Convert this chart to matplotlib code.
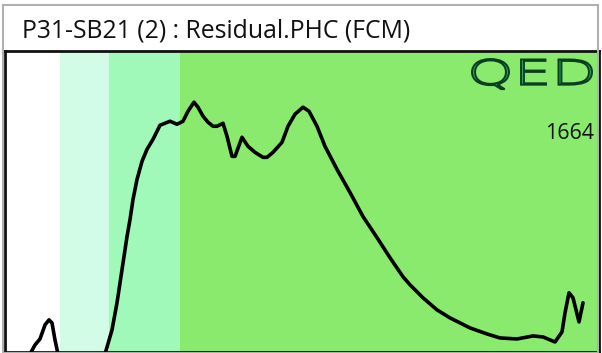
import numpy as np
import matplotlib.pyplot as plt
from matplotlib.patches import Rectangle, PathPatch
from matplotlib.textpath import TextPath
from matplotlib.font_manager import FontProperties
from matplotlib.transforms import Affine2D

# trace of the distribution curve (x position, response); NaN splits the two humps
curve_x = [25, 30, 35, 40, 44, 47, 50, 53, np.nan,
           100, 107, 112, 117, 122, 125, 128, 132, 137, 142, 148, 155, 165, 172, 178,
           183, 189, 193, 198, 203, 208, 212, 218, 222, 227, 230, 237, 243, 250, 258,
           262, 268, 277, 283, 290, 298, 304, 312, 320, 332, 345, 358, 372, 385, 398,
           405, 418, 432, 445, 465, 482, 495, 512, 528, 538, 550, 557, 560, 564, 568,
           574, 578]
curve_y = [-2, 7, 13, 27, 32, 29, 12, -2, np.nan,
           -2, 22, 49, 82, 115, 132, 152, 172, 190, 202, 212, 226, 230, 227, 230,
           240, 249, 244, 235, 229, 225, 225, 228, 215, 195, 195, 214, 205, 199, 194,
           194, 199, 209, 225, 237, 244, 240, 225, 205, 182, 159, 135, 114, 94, 75,
           67, 54, 42, 34, 24, 18, 14, 13, 16, 15, 10, 20, 39, 59, 54,
           30, 49]
# region boundaries along x
band_edges = [0, 55, 104, 175, 594]
band_colors = ['#ffffff', '#d3fce6', '#a1f9b9', '#8aea6d']
title = 'P31-SB21 (2) : Residual.PHC (FCM)'
count_label = '1664'

W, H = 602, 353
fig = plt.figure(figsize=(W / 100, H / 100), dpi=100)
fig.patch.set_facecolor('white')

# outer gray frame around title and plot
fig.patches.append(Rectangle((3 / W, 0), 595 / W, 1 - 5 / H, transform=fig.transFigure,
                             fill=False, edgecolor='#b0b0b0', linewidth=1.5))
fig.text(22 / W, 1 - 31 / H, title, fontsize=17.8, family='Open Sans',
         ha='left', va='center', color='#111111')

ax = fig.add_axes([5 / W, 1 / H, 594 / W, 301 / H])
ax.set_xlim(0, 594)
ax.set_ylim(0, 300)
for i in range(len(band_colors)):
    ax.axvspan(band_edges[i], band_edges[i + 1], color=band_colors[i], lw=0, zorder=0)

ax.plot(curve_x, curve_y, color='black', lw=2.6, solid_joinstyle='round',
        solid_capstyle='round', zorder=3)

for s in ax.spines.values():
    s.set_linewidth(2)
    s.set_color('#111111')
ax.set_xticks([])
ax.set_yticks([])

ax.text(589, 218, count_label, fontsize=15.5, family='Open Sans', weight='medium',
        ha='right', va='center', color='#111111')

# QED logo, scaled into its box
tp = TextPath((0, 0), 'QED', size=10,
              prop=FontProperties(family='DejaVu Sans', weight='light'))
bb = tp.get_extents()
x0, x1, y0, y1 = 467, 587, 262, 292
tr = Affine2D().translate(-bb.x0, -bb.y0).scale((x1 - x0) / bb.width,
                                                   (y1 - y0) / bb.height).translate(x0, y0)
logo = tr.transform_path(tp)
ax.add_patch(PathPatch(logo, facecolor='#23a858', edgecolor='#0b3d20', lw=1.4, zorder=4))

fig.savefig('out.png', dpi=100)
